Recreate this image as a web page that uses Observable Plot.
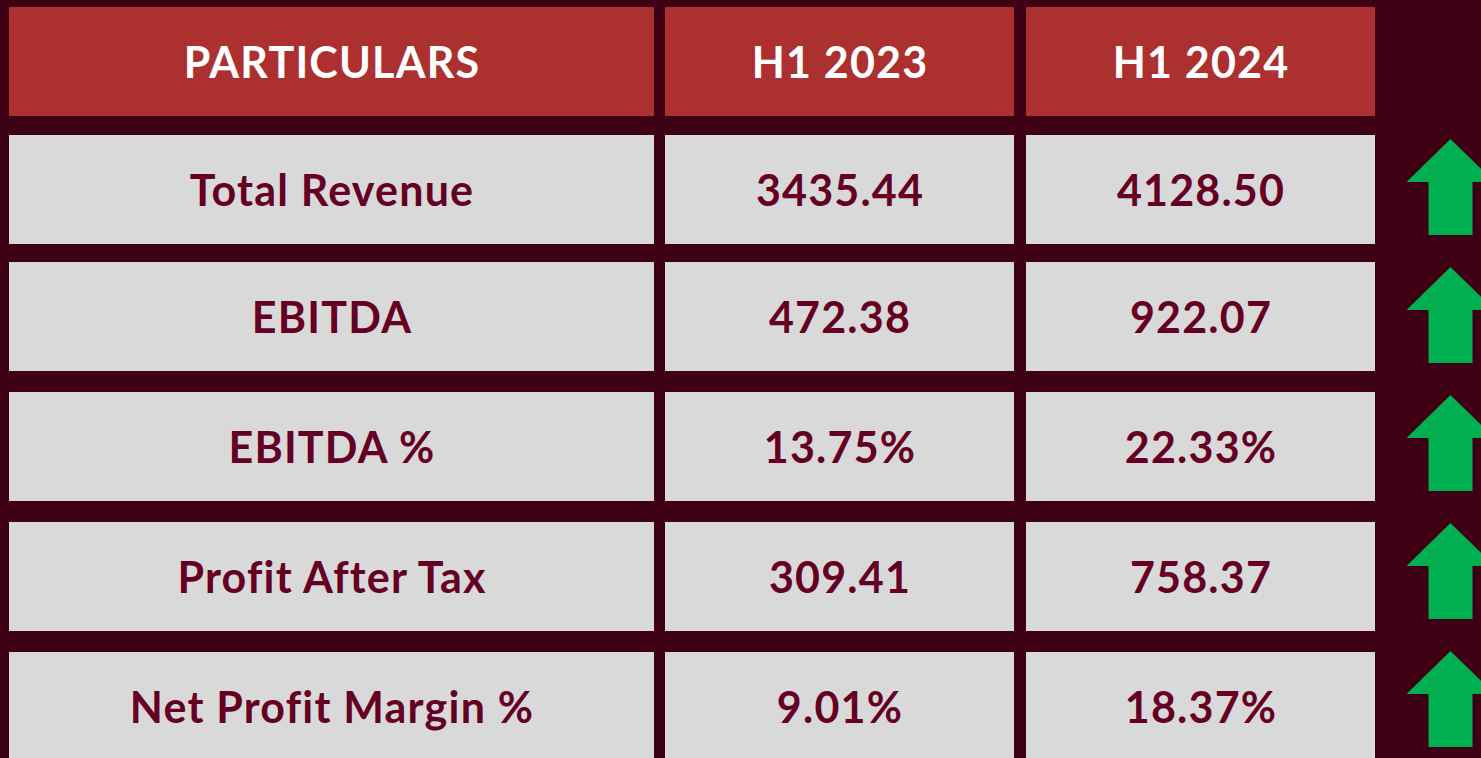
<!DOCTYPE html>
<html>
<head>
<meta charset="utf-8">
<script src="https://cdn.jsdelivr.net/npm/d3@7"></script>
<script src="https://cdn.jsdelivr.net/npm/@observablehq/plot@0.6"></script>
<style>
  html, body { margin: 0; padding: 0; background: #3d0014; overflow: hidden; }
  #chart svg { display: block; }
</style>
</head>
<body>
<div id="chart"></div>
<script>
// ---- data ----
const headers = ["PARTICULARS", "H1 2023", "H1 2024"];
const particulars = ["Total Revenue", "EBITDA", "EBITDA %", "Profit After Tax", "Net Profit Margin %"];
const h1_2023 = [3435.44, 472.38, 13.75, 309.41, 9.01];
const h1_2024 = [4128.50, 922.07, 22.33, 758.37, 18.37];
const isPercent = [false, false, true, false, true];

// ---- layout ----
const W = 1481, H = 758;
const colX = [[9, 654], [665, 1014], [1026, 1375]];
const rowTop = [7, 135, 262, 392, 522, 652];
const rowH = 109;
const arrowX = 1450;
const arrowOffset = [-3, -2, -4, -6, -8];

const fmt = (v, p) => p ? v.toFixed(2) + "%" : v.toFixed(2);

const cells = [];
headers.forEach((h, c) => cells.push({row: 0, col: c, text: h, header: true}));
particulars.forEach((p, i) => {
  cells.push({row: i + 1, col: 0, text: p, header: false});
  cells.push({row: i + 1, col: 1, text: fmt(h1_2023[i], isPercent[i]), header: false});
  cells.push({row: i + 1, col: 2, text: fmt(h1_2024[i], isPercent[i]), header: false});
});

const arrows = particulars.map((p, i) => ({
  row: i + 1,
  up: h1_2024[i] >= h1_2023[i],
  y: rowTop[i + 1] + rowH / 2 + arrowOffset[i]
}));

// custom arrow symbols (fixed pixel geometry)
const arrowUp = {
  draw(ctx) {
    ctx.moveTo(0, -48);
    ctx.lineTo(44, -5);
    ctx.lineTo(22, -5);
    ctx.lineTo(22, 48);
    ctx.lineTo(-22, 48);
    ctx.lineTo(-22, -5);
    ctx.lineTo(-44, -5);
    ctx.closePath();
  }
};
const arrowDown = {
  draw(ctx) {
    ctx.moveTo(0, 48);
    ctx.lineTo(44, 5);
    ctx.lineTo(22, 5);
    ctx.lineTo(22, -48);
    ctx.lineTo(-22, -48);
    ctx.lineTo(-22, 5);
    ctx.lineTo(-44, 5);
    ctx.closePath();
  }
};

const chart = Plot.plot({
  width: W,
  height: H,
  margin: 0,
  style: {background: "#3d0014", fontFamily: "Lato, 'Noto Sans', sans-serif", letterSpacing: "1.2px"},
  x: {type: "linear", domain: [0, W], range: [0, W], axis: null},
  y: {type: "linear", domain: [0, H], range: [0, H], axis: null},
  marks: [
    Plot.rect(cells, {
      x1: d => colX[d.col][0],
      x2: d => colX[d.col][1],
      y1: d => rowTop[d.row],
      y2: d => rowTop[d.row] + rowH,
      fill: d => d.header ? "#ad3030" : "#d9d9d9"
    }),
    Plot.text(cells, {
      x: d => (colX[d.col][0] + colX[d.col][1]) / 2,
      y: d => rowTop[d.row] + rowH / 2,
      dy: 2,
      text: "text",
      fill: d => d.header ? "#ffffff" : "#650024",
      fontSize: 43,
      fontWeight: 700,
      textAnchor: "middle",
      lineAnchor: "middle"
    }),
    Plot.dot(arrows, {
      x: () => arrowX,
      y: "y",
      symbol: d => d.up ? arrowUp : arrowDown,
      fill: d => d.up ? "#00b050" : "#e03030",
      stroke: "none",
      r: 10
    })
  ]
});
document.getElementById("chart").appendChild(chart);
</script>
</body>
</html>
